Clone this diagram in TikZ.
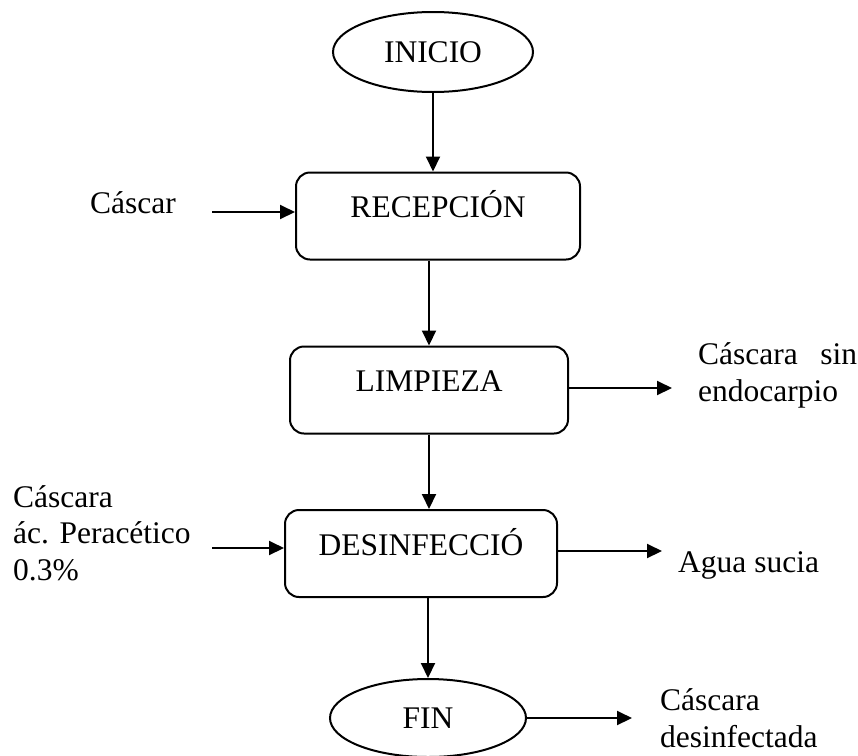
\documentclass[tikz,border=0pt]{standalone}
\usepackage{fontspec}
\setmainfont{Liberation Serif}
\usetikzlibrary{shapes.geometric,arrows.meta}

\tikzset{
  fuente/.style={font=\fontsize{31.5}{36.5}\selectfont},
  paso/.style={draw, rounded corners=14pt, line width=2pt, fuente, inner sep=0pt, text height=45pt, text depth=42pt},
  terminal/.style={draw, ellipse, line width=2pt, fuente, inner sep=0pt},
  flecha/.style={line width=2pt, -{Triangle[length=15pt,width=14pt]}},
  texto/.style={fuente, inner sep=0pt}
}

\begin{document}
\begin{tikzpicture}[x=1pt,y=1pt,yscale=-1]
\useasboundingbox (0,0) rectangle (858,755);

% Terminales y pasos
\node[terminal, minimum width=200pt, minimum height=80pt] (inicio) at (433,52) {INICIO};
\node[paso, minimum width=284pt] (recepcion) at (438,216) {RECEPCIÓN};
\node[paso, minimum width=278pt] (limpieza) at (429,390) {LIMPIEZA};
\node[paso, minimum width=272pt] (desinfeccion) at (421,553.5) {DESINFECCIÓ};
\node[terminal, minimum width=196pt, minimum height=78pt] (fin) at (428,718) {FIN};

% Flujo principal
\draw[flecha] (inicio.south) -- (inicio.south |- recepcion.north);
\draw[flecha] (limpieza.north |- recepcion.south) -- (limpieza.north);
\draw[flecha] (limpieza.south) -- (limpieza.south |- desinfeccion.north);
\draw[flecha] (fin.north |- desinfeccion.south) -- (fin.north);

% Entradas
\node[texto, anchor=base west] (cascar) at (90,213) {Cáscar};
\coordinate (cascarsal) at (212,212);
\draw[flecha] (cascarsal) -- (cascarsal -| recepcion.west);

\node[texto, anchor=base west, align=left] (acido) at (13,580) {Cáscara\\ác. Peracético\\0.3\%};
\coordinate (acidosal) at (212,548);
\draw[flecha] (acidosal) -- (acidosal -| desinfeccion.west);

% Salidas
\coordinate (limpsal) at (672,388);
\draw[flecha] (limpieza.east |- limpsal) -- (limpsal);
\node[texto, anchor=base west, align=left] (endocarpio) at (698,401) {\makebox[159pt][s]{Cáscara sin}\\endocarpio};

\coordinate (aguasal) at (662,551);
\draw[flecha] (desinfeccion.east |- aguasal) -- (aguasal);
\node[texto, anchor=base west] (agua) at (678,572) {Agua sucia};

\coordinate (finsal) at (632,718);
\draw[flecha] (fin.east) -- (finsal);
\node[texto, anchor=base west, align=left] (desinfectada) at (660,747) {Cáscara\\desinfectada};

\end{tikzpicture}
\end{document}
